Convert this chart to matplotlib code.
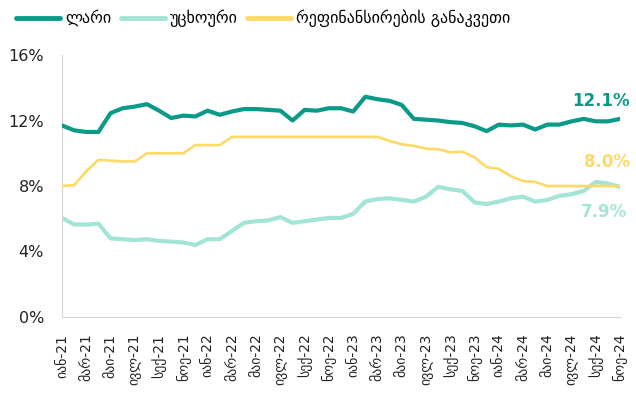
import matplotlib.pyplot as plt

# monthly data, Jan-21 .. Nov-24
lari = [11.7, 11.4, 11.3, 11.3, 12.45, 12.75, 12.85, 13.0, 12.6, 12.15,
        12.3, 12.25, 12.6, 12.35, 12.55, 12.7, 12.7, 12.65, 12.6, 12.0,
        12.65, 12.6, 12.75, 12.75, 12.55, 13.45, 13.3, 13.2, 12.95, 12.1,
        12.05, 12.0, 11.9, 11.85, 11.65, 11.35, 11.75, 11.7, 11.75, 11.45,
        11.75, 11.75, 11.95, 12.1, 11.95, 11.95, 12.1]
fx = [6.05, 5.65, 5.65, 5.7, 4.8, 4.75, 4.7, 4.75, 4.65, 4.6,
      4.55, 4.4, 4.75, 4.75, 5.25, 5.75, 5.85, 5.9, 6.1, 5.75,
      5.85, 5.95, 6.05, 6.05, 6.3, 7.05, 7.2, 7.25, 7.15, 7.05,
      7.35, 7.95, 7.8, 7.7, 7.0, 6.9, 7.05, 7.25, 7.35, 7.05,
      7.15, 7.4, 7.5, 7.7, 8.25, 8.15, 7.94]
refi = [8.0, 8.05, 8.9, 9.6, 9.55, 9.5, 9.5, 10.0, 10.0, 10.0,
        10.0, 10.5, 10.5, 10.5, 11.0, 11.0, 11.0, 11.0, 11.0, 11.0,
        11.0, 11.0, 11.0, 11.0, 11.0, 11.0, 11.0, 10.75, 10.55, 10.45,
        10.28, 10.25, 10.05, 10.1, 9.75, 9.15, 9.05, 8.6, 8.3, 8.25,
        8.0, 8.0, 8.0, 8.0, 8.0, 8.0, 8.0]

months = ['იან', 'მარ', 'მაი', 'ივლ', 'სექ', 'ნოე']
years = ['21', '22', '23', '24']
tick_labels = [m + '-' + y for y in years for m in months]

names = ['ლარი', 'უცხოური', 'რეფინანსირების განაკვეთი']
end_labels = ['12.1%', '7.9%', '8.0%']

c_lari = '#0b9a88'
c_fx = '#a2e4d6'
c_refi = '#fdd968'

plt.rcParams['font.family'] = ['DejaVu Sans']
fig = plt.figure(figsize=(6.36, 4.01), dpi=100)
ax = fig.add_axes([0.0975, 0.2095, 0.8775, 0.6533])

x = list(range(len(lari)))
ax.plot(x, fx, color=c_fx, linewidth=3.0, solid_capstyle='round', solid_joinstyle='round', label=names[1], zorder=2)
ax.plot(x, refi, color=c_refi, linewidth=1.9, solid_capstyle='round', solid_joinstyle='round', label=names[2], zorder=3)
ax.plot(x, lari, color=c_lari, linewidth=3.0, solid_capstyle='round', solid_joinstyle='round', label=names[0], zorder=4)

ax.set_xlim(0, len(lari) - 1)
ax.set_ylim(0, 16)
ax.set_yticks([0, 4, 8, 12, 16])
ax.set_yticklabels(['0%', '4%', '8%', '12%', '16%'], fontsize=11.5, color='#222222')
ax.set_xticks(range(0, len(lari), 2))
ax.set_xticklabels(tick_labels, rotation=90, fontsize=10, color='#222222')
ax.tick_params(length=0)
ax.tick_params(axis='x', pad=12)
ax.tick_params(axis='y', pad=13)
for s in ['top', 'right']:
    ax.spines[s].set_visible(False)
for s in ['left', 'bottom']:
    ax.spines[s].set_color('#d4d4d4')

# end labels
ax.annotate(end_labels[0], (x[-1], lari[-1]), xytext=(7, 13), textcoords='offset points',
            ha='right', va='center', fontsize=12, fontweight='bold', color=c_lari, annotation_clip=False)
ax.annotate(end_labels[2], (x[-1], refi[-1]), xytext=(7, 17), textcoords='offset points',
            ha='right', va='center', fontsize=12, fontweight='bold', color=c_refi, annotation_clip=False)
ax.annotate(end_labels[1], (x[-1], fx[-1]), xytext=(5, -18), textcoords='offset points',
            ha='right', va='center', fontsize=12, fontweight='bold', color=c_fx, annotation_clip=False)

h, l = ax.get_legend_handles_labels()
order = [2, 0, 1]
fig.legend([h[i] for i in order], [l[i] for i in order], loc='upper left',
           bbox_to_anchor=(0.003, 1.012), ncol=3, frameon=False, fontsize=11.5,
           handlelength=2.75, handletextpad=0.3, columnspacing=0.6)
for line in fig.legends[0].get_lines():
    line.set_linewidth(3.5)

plt.savefig('out.png', dpi=100)
